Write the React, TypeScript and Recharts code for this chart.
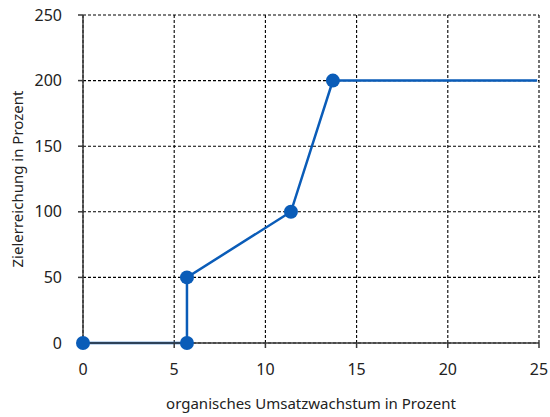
import React from "react";
import { LineChart, Line, XAxis, YAxis, CartesianGrid } from "recharts";

const growthPercent = [0, 5.7, 5.7, 11.4, 13.7, 24.9];
const achievementPercent = [0, 0, 50, 100, 200, 200];
const xTicks = [0, 5, 10, 15, 20, 25];
const yTicks = [0, 50, 100, 150, 200, 250];

const data = growthPercent.map((x, i) => ({ x, y: achievementPercent[i] }));

const FONT = "'Noto Sans', 'Open Sans', sans-serif";
const BLUE = "#0A5CB8";

const Dot = (props: any) => {
  const { cx, cy, index } = props;
  if (index === data.length - 1) return null;
  return <circle key={index} cx={cx} cy={cy} r={7} fill={BLUE} stroke="none" />;
};

export default function App() {
  return (
    <div style={{ position: "absolute", left: 0, top: 0, width: 550, height: 417, background: "#fff" }}>
      <LineChart width={550} height={417} data={data} margin={{ top: 15, right: 11, bottom: 0, left: 0 }}>
        <CartesianGrid stroke="#000" strokeDasharray="3 2" strokeWidth={1.1} />
        <XAxis
          dataKey="x"
          type="number"
          domain={[0, 25]}
          ticks={xTicks}
          height={74}
          tickSize={5}
          tickMargin={16}
          stroke="#3a3a3a"
          strokeWidth={1.5}
          tick={{ fill: "#222", fontSize: 16, fontFamily: FONT }}
          label={{
            value: "organisches Umsatzwachstum in Prozent",
            position: "insideBottom",
            offset: 8,
            fill: "#222",
            fontSize: 15,
            fontFamily: FONT,
          }}
        />
        <YAxis
          type="number"
          domain={[0, 250]}
          ticks={yTicks}
          width={83}
          tickSize={5}
          tickMargin={16}
          stroke="#3a3a3a"
          strokeWidth={1.5}
          tick={{ fill: "#222", fontSize: 16, fontFamily: FONT }}
          label={{
            value: "Zielerreichung in Prozent",
            angle: -90,
            position: "insideLeft",
            offset: 18,
            style: { textAnchor: "middle" },
            fill: "#222",
            fontSize: 15,
            fontFamily: FONT,
          }}
        />
        <Line
          dataKey="y"
          type="linear"
          stroke={BLUE}
          strokeWidth={2.5}
          dot={<Dot />}
          activeDot={false}
          isAnimationActive={false}
        />
      </LineChart>
    </div>
  );
}
